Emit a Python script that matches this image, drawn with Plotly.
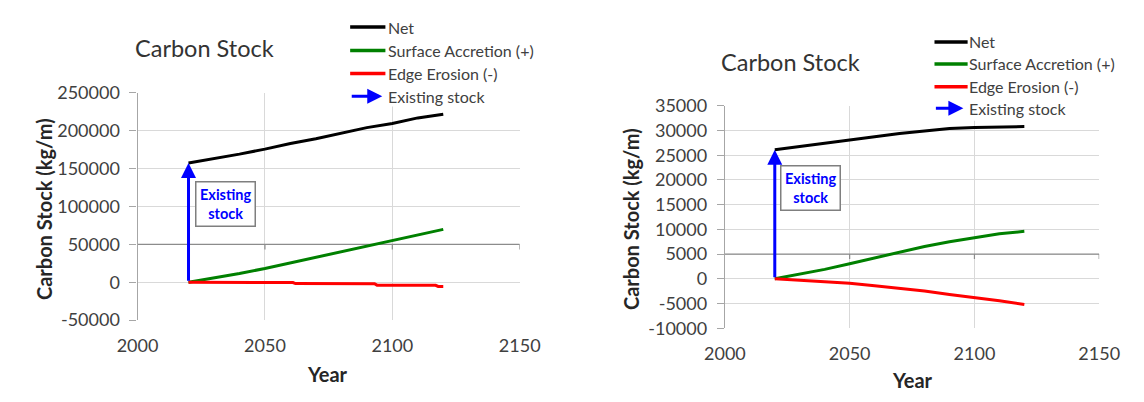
import plotly.graph_objects as go

W, H = 1144, 402
FONT = "Lato, 'Open Sans', sans-serif"

# ---------------- data ----------------
chart_title = "Carbon Stock"
x_title = "Year"
y_title = "Carbon Stock (kg/m)"
series_names = ["Net", "Surface Accretion (+)", "Edge Erosion (-)"]
arrow_label = "Existing stock"
box_text = "Existing<br>stock"
series_colors = ["#000000", "#008000", "#ff0000"]
arrow_color = "#0000ff"

years = [2020, 2030, 2040, 2050, 2060, 2070, 2080, 2090, 2100, 2110, 2120]

# Left chart
left_net = [157500, 162900, 169100, 175700, 183100, 189300, 196800, 204100, 209500, 216900, 221800]
left_accretion = [0, 5400, 11600, 18200, 25600, 33500, 41000, 48300, 55800, 63200, 69800]
left_erosion_years = [2020, 2061, 2062, 2093, 2094, 2117, 2118, 2120]
left_erosion = [0, -300, -1700, -1900, -3800, -4000, -5500, -5500]
left_yticks = [-50000, 0, 50000, 100000, 150000, 200000, 250000]
left_yticklabels = ["-50000", "0", "50000", "100000", "150000", "200000", "250000"]
left_axis_cross = 50000

# Right chart
right_net = [26100, 26800, 27500, 28100, 28750, 29400, 29950, 30400, 30600, 30730, 30800]
right_accretion = [0, 950, 1900, 3050, 4200, 5400, 6550, 7500, 8270, 9100, 9600]
right_erosion_years = years
right_erosion = [0, -250, -640, -890, -1390, -1900, -2470, -3160, -3730, -4430, -5190]
right_yticks = [-10000, -5000, 0, 5000, 10000, 15000, 20000, 25000, 30000, 35000]
right_yticklabels = ["-10000", "-5000", "0", "5000", "10000", "15000", "20000", "25000", "30000", "35000"]
right_axis_cross = 5000

xticks = [2000, 2050, 2100, 2150]
xticklabels = ["2000", "2050", "2100", "2150"]

# ---------------- helpers ----------------
def fx(px):
    return px / W

def fy(py):
    return 1 - py / H

fig = go.Figure()

panels = [
    dict(xa="x", ya="y", xname="xaxis", yname="yaxis",
         net=left_net, acc=left_accretion, ero_x=left_erosion_years, ero=left_erosion,
         yticks=left_yticks, yticklabels=left_yticklabels, cross=left_axis_cross,
         dom_x=(121, 517.7), dom_y=(326, 85.5),
         title=(190, 38), ytitle=(23.3, 208), xtitle=(318, 383),
         box=(2034.5, 103750),
         leg_line=(341.7, 378.3), leg_rows=[16, 40.7, 65, 89], leg_text=378.5,
         leg_arrow=(343, 375),
         cover=(321.7, 100)),
    dict(xa="x2", ya="y2", xname="xaxis2", yname="yaxis2",
         net=right_net, acc=right_accretion, ero_x=right_erosion_years, ero=right_erosion,
         yticks=right_yticks, yticklabels=right_yticklabels, cross=right_axis_cross,
         dom_x=(730.7, 1119.3), dom_y=(334.5, 99.3),
         title=(798.5, 52.7), ytitle=(633.3, 219), xtitle=(925, 389.3),
         box=(2034.5, 18320),
         leg_line=(948.3, 982.7), leg_rows=[31.7, 55, 79, 101.7], leg_text=982.5,
         leg_arrow=(949.3, 978.3),
         cover=(928.3, 115)),
]

shapes = []
annotations = []

for p in panels:
    xa, ya = p["xa"], p["ya"]
    # data traces
    fig.add_trace(go.Scatter(x=years, y=p["acc"], mode="lines", name=series_names[1],
                             line=dict(color=series_colors[1], width=3),
                             xaxis=xa, yaxis=ya, showlegend=False))
    fig.add_trace(go.Scatter(x=p["ero_x"], y=p["ero"], mode="lines", name=series_names[2],
                             line=dict(color=series_colors[2], width=3),
                             xaxis=xa, yaxis=ya, showlegend=False))
    fig.add_trace(go.Scatter(x=years, y=p["net"], mode="lines", name=series_names[0],
                             line=dict(color=series_colors[0], width=3),
                             xaxis=xa, yaxis=ya, showlegend=False))

    # axes
    fig.layout[p["xname"]] = dict(
        domain=[fx(p["dom_x"][0]), fx(p["dom_x"][1])],
        range=[xticks[0], xticks[-1]], tickvals=xticks, ticktext=xticklabels, anchor=ya,
        showgrid=True, gridcolor="#d9d9d9", gridwidth=1,
        showline=False, zeroline=False, ticks="",
        ticklabelstandoff=13,
        tickfont=dict(family=FONT, size=18, color="#404040"),
    )
    fig.layout[p["yname"]] = dict(
        domain=[fy(p["dom_y"][0]), fy(p["dom_y"][1])],
        range=[p["yticks"][0], p["yticks"][-1]], tickvals=p["yticks"],
        ticktext=p["yticklabels"], anchor=xa,
        showgrid=True, gridcolor="#d9d9d9", gridwidth=1,
        showline=True, linecolor="#a6a6a6", linewidth=1.2,
        ticks="outside", ticklen=7, tickcolor="#a6a6a6", tickwidth=1.2,
        ticklabelstandoff=6, zeroline=False,
        tickfont=dict(family=FONT, size=18, color="#404040"),
    )

    # horizontal axis line crossing at a value
    shapes.append(dict(type="line", xref=xa, yref=ya, x0=xticks[0], x1=xticks[-1],
                       y0=p["cross"], y1=p["cross"], layer="between",
                       line=dict(color="#8c8c8c", width=1.3)))
    for t in xticks[1:]:
        shapes.append(dict(type="line", xref=xa, yref=ya, x0=t, x1=t,
                           ysizemode="pixel", yanchor=p["cross"], y0=0, y1=-5,
                           layer="between", line=dict(color="#8c8c8c", width=1.2)))

    # existing stock arrow
    annotations.append(dict(xref=xa, yref=ya, axref=xa, ayref=ya,
                            x=years[0], y=p["net"][0], ax=years[0], ay=0,
                            text="", showarrow=True, arrowhead=2, arrowsize=1,
                            arrowwidth=3, arrowcolor=arrow_color, standoff=0))
    # existing stock text box
    annotations.append(dict(xref=xa, yref=ya, x=p["box"][0], y=p["box"][1],
                            text="<b>" + box_text + "</b>", showarrow=False,
                            font=dict(family=FONT, size=14.5, color=arrow_color),
                            bgcolor="#ffffff", bordercolor="#7f7f7f", borderwidth=1.5,
                            borderpad=3.5, align="center"))

    # titles
    annotations.append(dict(xref="paper", yref="paper", x=fx(p["title"][0]), y=fy(p["title"][1]),
                            text=chart_title, showarrow=False, xanchor="center", yanchor="middle",
                            font=dict(family=FONT, size=23.5, color="#333333")))
    annotations.append(dict(xref="paper", yref="paper", x=fx(p["ytitle"][0]), y=fy(p["ytitle"][1]),
                            text="<b>" + y_title + "</b>", showarrow=False, textangle=-90,
                            xanchor="center", yanchor="middle",
                            font=dict(family=FONT, size=20, color="#262626")))
    annotations.append(dict(xref="paper", yref="paper", x=fx(p["xtitle"][0]), y=fy(p["xtitle"][1]),
                            text="<b>" + x_title + "</b>", showarrow=False,
                            xanchor="center", yanchor="middle",
                            font=dict(family=FONT, size=20, color="#262626")))

    # legend background (covers grid top-right like the legend box)
    shapes.append(dict(type="rect", xref="paper", yref="paper",
                       x0=fx(p["cover"][0]), x1=fx(p["dom_x"][1] + 3),
                       y0=fy(p["cover"][1]), y1=1.0, layer="above",
                       fillcolor="#ffffff", line=dict(width=0)))
    # legend entries
    l0, l1 = p["leg_line"]
    for i, name in enumerate(series_names):
        r = p["leg_rows"][i]
        shapes.append(dict(type="line", xref="paper", yref="paper",
                           x0=fx(l0), x1=fx(l1), y0=fy(r), y1=fy(r), layer="above",
                           line=dict(color=series_colors[i], width=3.5)))
    labels = series_names + [arrow_label]
    for i, name in enumerate(labels):
        r = p["leg_rows"][i]
        annotations.append(dict(xref="paper", yref="paper", x=fx(p["leg_text"]), y=fy(r),
                                text=name, showarrow=False, xanchor="left", yanchor="middle",
                                font=dict(family=FONT, size=16, color="#404040")))
    a0, a1 = p["leg_arrow"]
    r = p["leg_rows"][3]
    annotations.append(dict(xref="paper", yref="paper", x=fx(a1), y=fy(r),
                            axref="pixel", ayref="pixel", ax=-(a1 - a0), ay=0,
                            text="", showarrow=True, arrowhead=2, arrowsize=1,
                            arrowwidth=3, arrowcolor=arrow_color, standoff=0))

fig.update_layout(
    width=W, height=H, autosize=False,
    margin=dict(l=0, r=0, t=0, b=0),
    paper_bgcolor="#ffffff", plot_bgcolor="#ffffff",
    showlegend=False,
    shapes=shapes, annotations=annotations,
    font=dict(family=FONT),
)

fig.write_html("out.html", post_script="document.body.style.margin='0';")
